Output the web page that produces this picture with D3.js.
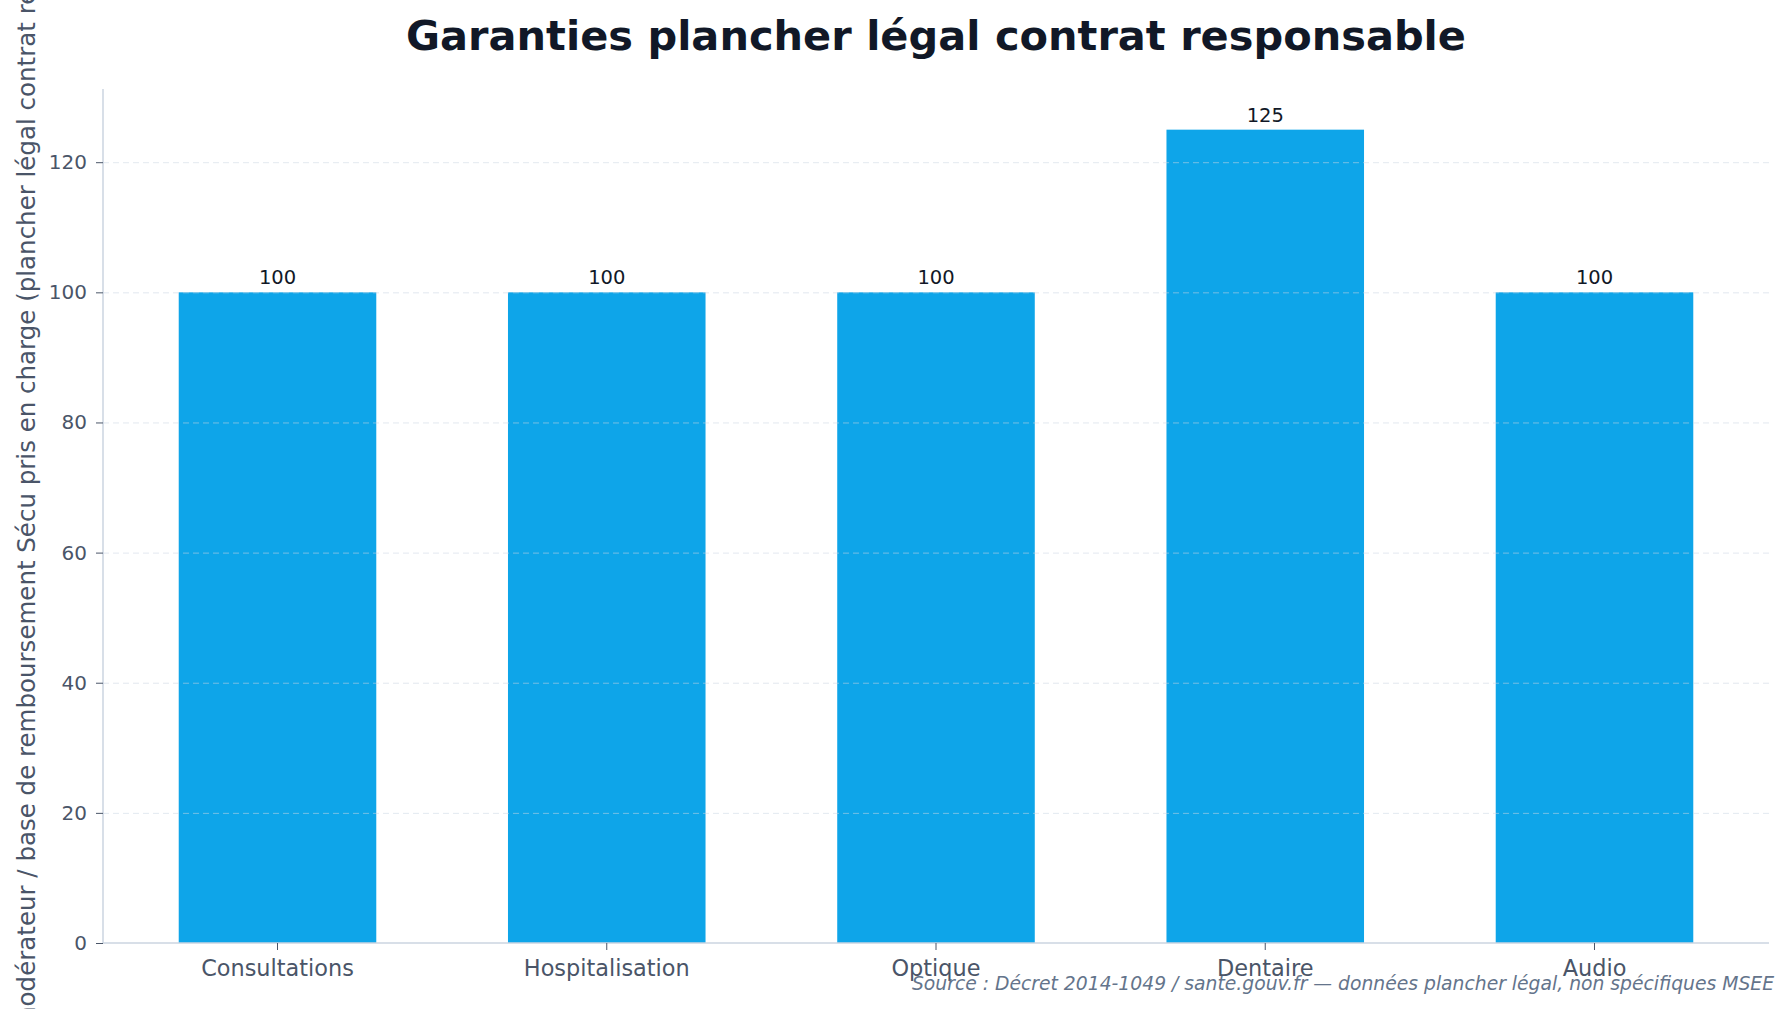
<!DOCTYPE html>
<html>
<head>
<meta charset="utf-8">
<script src="https://cdn.jsdelivr.net/npm/d3@7"></script>
<style>
  body { margin: 0; background: #fff; }
  svg { display: block; }
  svg text { font-family: "DejaVu Sans", sans-serif; }
  .grid line { stroke: #cbd5e1; stroke-dasharray: 6,4; stroke-opacity: 0.55; }
  .grid .domain { display: none; }
</style>
</head>
<body>
<svg id="chart" width="1789" height="1009"></svg>
<script>
var categories = ["Consultations", "Hospitalisation", "Optique", "Dentaire", "Audio"];
var values = [100, 100, 100, 125, 100];
var yTicks = [0, 20, 40, 60, 80, 100, 120];

var titleText = "Garanties plancher légal contrat responsable";
var yLabelText = "% du ticket modérateur / base de remboursement Sécu pris en charge (plancher légal contrat responsable)";
var sourceText = "Source : Décret 2014-1049 / sante.gouv.fr — données plancher légal, non spécifiques MSEE";

var width = 1789, height = 1009;
var margin = { top: 89, right: 20, bottom: 66, left: 103 };
var innerW = width - margin.left - margin.right,
    innerH = height - margin.top - margin.bottom;

var svg = d3.select("#chart");

var x = d3.scaleBand()
    .domain(categories)
    .range([0, innerW])
    .paddingInner(0.4)
    .paddingOuter(0.23);

var y = d3.scaleLinear()
    .domain([0, d3.max(values) * 1.05])
    .range([innerH, 0]);

var g = svg.append("g").attr("transform", "translate(" + margin.left + "," + margin.top + ")");

// bars
g.selectAll(".bar")
    .data(values)
    .enter().append("rect")
    .attr("class", "bar")
    .attr("x", function(d, i) { return x(categories[i]); })
    .attr("y", function(d) { return y(d); })
    .attr("width", x.bandwidth())
    .attr("height", function(d) { return innerH - y(d); })
    .attr("fill", "#0ea5e9");

// grid (faint, over bars like the original)
g.append("g")
    .attr("class", "grid")
    .call(d3.axisLeft(y).tickValues(yTicks.filter(function(t) { return t > 0; })).tickSize(-innerW).tickFormat(""));

// value labels
g.selectAll(".val")
    .data(values)
    .enter().append("text")
    .attr("x", function(d, i) { return x(categories[i]) + x.bandwidth() / 2; })
    .attr("y", function(d) { return y(d) - 8; })
    .attr("text-anchor", "middle")
    .attr("font-size", 19.5)
    .attr("fill", "#111827")
    .text(function(d) { return d; });

// y axis
var yAxis = g.append("g")
    .call(d3.axisLeft(y).tickValues(yTicks).tickSize(7).tickPadding(9));
yAxis.select(".domain").attr("stroke", "#cbd5e1").attr("stroke-width", 1.5)
    .attr("d", "M0," + innerH + "V0");
yAxis.selectAll(".tick line").attr("stroke", "#4a5568");
yAxis.selectAll(".tick text").attr("font-size", 20).attr("fill", "#4a5568");

// x axis
var xAxis = g.append("g")
    .attr("transform", "translate(0," + innerH + ")")
    .call(d3.axisBottom(x).tickSize(7).tickPadding(10));
xAxis.select(".domain").attr("stroke", "#cbd5e1").attr("stroke-width", 1.5)
    .attr("d", "M0,0H" + innerW);
xAxis.selectAll(".tick line").attr("stroke", "#4a5568");
xAxis.selectAll(".tick text").attr("font-size", 22.4).attr("fill", "#4a5568");

// title
svg.append("text")
    .attr("x", margin.left + innerW / 2)
    .attr("y", 50)
    .attr("text-anchor", "middle")
    .attr("font-size", 41.5)
    .attr("font-weight", "bold")
    .attr("fill", "#111827")
    .text(titleText);

// y label
svg.append("text")
    .attr("transform", "translate(35," + (margin.top + innerH / 2) + ") rotate(-90)")
    .attr("text-anchor", "middle")
    .attr("font-size", 24.5)
    .attr("fill", "#4a5568")
    .text(yLabelText);

// source
svg.append("text")
    .attr("x", 1774)
    .attr("y", 990)
    .attr("text-anchor", "end")
    .attr("font-size", 18.75)
    .attr("font-style", "italic")
    .attr("fill", "#64748b")
    .text(sourceText);
</script>
</body>
</html>
